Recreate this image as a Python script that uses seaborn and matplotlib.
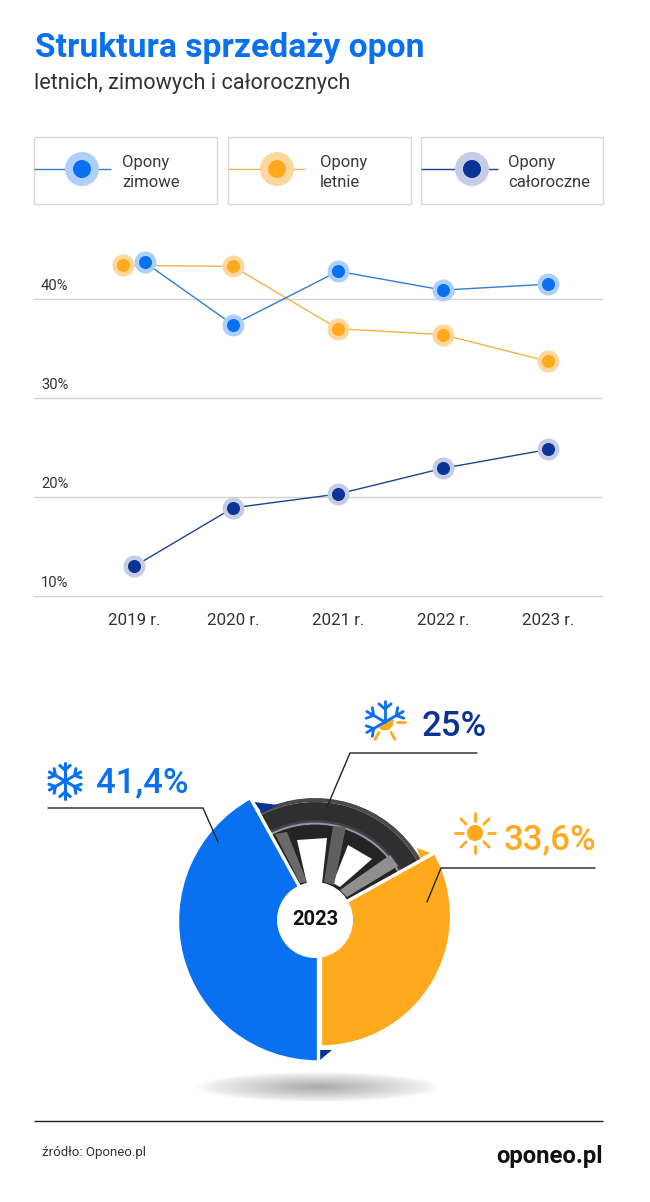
#!/usr/bin/env python
# coding: utf-8

import numpy as np
import pandas as pd
import matplotlib.pyplot as plt
import seaborn as sns
from matplotlib.patches import Circle, Ellipse, Polygon, Rectangle, Wedge
from matplotlib.transforms import ScaledTranslation

W, H = 650, 1202

BLUE = "#0a70f2"
ORANGE = "#ffa91c"
NAVY = "#0b3396"
BLUE_HALO = "#aecffa"
ORANGE_HALO = "#fdd79c"
NAVY_HALO = "#c4cde5"
LINE_COLORS = {"zimowe": "#2f7dd6", "letnie": "#efb548", "caloroczne": "#1f4196"}

# Values
year_labels = ["2019 r.", "2020 r.", "2021 r.", "2022 r.", "2023 r."]
tick_years = [2019.06, 2020, 2021, 2022, 2023]
x_zimowe = [2019.16, 2020, 2021, 2022, 2023]
x_letnie = [2018.95, 2020, 2021, 2022, 2023]
x_caloroczne = [2019.06, 2020, 2021, 2022, 2023]
zimowe = [43.7, 37.4, 42.8, 40.9, 41.5]
letnie = [43.4, 43.3, 37.0, 36.4, 33.7]
caloroczne = [13.0, 18.9, 20.3, 22.9, 24.8]
y_ticks = [10, 20, 30, 40]

# Shares of the 2023 pie
pie_shares = [33.6, 25, 41.4]
pie_colors = [ORANGE, NAVY, BLUE]


def line_table(x, y, name):
    return pd.DataFrame({"x": x, "y": y, "series": name})


def draw_series(ax, table, name, color, halo):
    sns.lineplot(data=table, x="x", y="y", color=LINE_COLORS[name], linewidth=1.0, ax=ax, zorder=2)
    sns.scatterplot(data=table, x="x", y="y", color=halo, s=250, linewidth=0, ax=ax, zorder=3)
    sns.scatterplot(data=table, x="x", y="y", color=color, s=88, linewidth=0, ax=ax, zorder=4)


def px_y(y):
    return H - y


def seg(ax, x0, y0, x1, y1, color, lw=1.0, z=5, cap="butt"):
    ax.plot([x0, x1], [px_y(y0), px_y(y1)], color=color, lw=lw, zorder=z, solid_capstyle=cap)


def draw_snowflake(ax, cx, cy, r, color, angles, lw=2.2):
    for a in angles:
        t = np.deg2rad(a)
        ex, ey = cx + r * np.cos(t), cy - r * np.sin(t)
        seg(ax, cx, cy, ex, ey, color, lw, cap="round")
        mx, my = cx + 0.62 * r * np.cos(t), cy - 0.62 * r * np.sin(t)
        for d in (-50, 50):
            b = np.deg2rad(a + d)
            seg(ax, mx, my, mx + 0.38 * r * np.cos(b), my - 0.38 * r * np.sin(b), color, lw, cap="round")


def draw_rays(ax, cx, cy, r0, r1, angles, color, lw=2.0):
    for a in angles:
        t = np.deg2rad(a)
        seg(ax, cx + r0 * np.cos(t), cy - r0 * np.sin(t), cx + r1 * np.cos(t), cy - r1 * np.sin(t), color, lw, cap="round")


if __name__ == "__main__":

    sns.set_style("white")
    plt.rcParams["font.family"] = ["Roboto", "DejaVu Sans"]

    fig = plt.figure(figsize=(W / 100, H / 100), dpi=100, facecolor="white")

    # Overlay in pixel coordinates, used for everything around the charts
    bg = fig.add_axes([0, 0, 1, 1], zorder=0)
    bg.set_xlim(0, W)
    bg.set_ylim(0, H)
    bg.axis("off")

    bg.text(35, px_y(48), "Struktura sprzedaży opon", color=BLUE, fontsize=24.2, fontweight="bold", va="center")
    bg.text(34, px_y(84), "letnich, zimowych i całorocznych", color="#333333", fontsize=15.6, va="center")

    # Legend boxes
    legend_items = [
        (34, 183, 82, "Opony\nzimowe", 122, LINE_COLORS["zimowe"], BLUE, BLUE_HALO),
        (228, 183, 277, "Opony\nletnie", 320, LINE_COLORS["letnie"], ORANGE, ORANGE_HALO),
        (421, 182, 472, "Opony\ncałoroczne", 508, LINE_COLORS["caloroczne"], NAVY, NAVY_HALO),
    ]
    for left, width, mx, label, tx, lc, col, halo in legend_items:
        bg.add_patch(Rectangle((left, px_y(204)), width, 67, facecolor="white", edgecolor="#d9d9d9", lw=1.0))
        seg(bg, left, 169, left + 77, 169, lc, 1.0, z=2)
        bg.add_patch(Circle((mx, px_y(169)), 17, facecolor=halo, edgecolor="none", zorder=3))
        bg.add_patch(Circle((mx, px_y(169)), 9, facecolor=col, edgecolor="none", zorder=4))
        bg.text(tx, px_y(172.5), label, fontsize=12, color="#3a3a3a", va="center", linespacing=1.42)

    # Line chart
    ax = fig.add_axes([34 / W, 1 - 600 / H, 569 / W, 360 / H], zorder=1)
    ax.patch.set_alpha(0)
    draw_series(ax, line_table(x_letnie, letnie, "letnie"), "letnie", ORANGE, ORANGE_HALO)
    draw_series(ax, line_table(x_zimowe, zimowe, "zimowe"), "zimowe", BLUE, BLUE_HALO)
    draw_series(ax, line_table(x_caloroczne, caloroczne, "caloroczne"), "caloroczne", NAVY, NAVY_HALO)
    ax.set_xlim(2018.105, 2023.524)
    ax.set_ylim(9.596, 45.96)
    ax.set_xlabel("")
    ax.set_ylabel("")
    ax.set_xticks(tick_years)
    ax.set_xticklabels(year_labels)
    ax.set_yticks(y_ticks)
    ax.set_yticklabels(["%d%%" % v for v in y_ticks])
    ax.tick_params(axis="x", length=0, pad=9.5, labelsize=12.2, labelcolor="#333333")
    ax.tick_params(axis="y", length=0, pad=-5, labelsize=10.6, labelcolor="#333333")
    shift = ScaledTranslation(0, 4.6 / 72, fig.dpi_scale_trans)
    for t in ax.get_yticklabels():
        t.set_ha("left")
        t.set_va("bottom")
        t.set_transform(t.get_transform() + shift)
    ax.yaxis.grid(True, color="#d4d4d4", linewidth=1.0)
    ax.set_axisbelow(True)
    sns.despine(ax=ax, left=True, bottom=True)

    # Shadow under the pie
    n_shadow = 40
    for i in range(n_shadow):
        f = 1 - i / n_shadow
        bg.add_patch(Ellipse((318, px_y(1087)), 245 * f, 30 * f, facecolor="#444444", edgecolor="none", alpha=0.013, zorder=1))

    # Pie, axes in pixel units centred on (319, 920)
    pie_ax = fig.add_axes([(319 - 160) / W, 1 - (920 + 160) / H, 320 / W, 320 / H], zorder=2)
    pie_ax.patch.set_alpha(0)
    wedges, _ = pie_ax.pie(
        pie_shares,
        colors=pie_colors,
        startangle=-92,
        radius=130,
        frame=True,
        wedgeprops={"edgecolor": "white", "linewidth": 2.4},
    )
    pie_ax.set_xlim(-160, 160)
    pie_ax.set_ylim(-160, 160)
    pie_ax.axis("off")
    # the slices in the reference are shifted and have different radii
    wedges[0].set_center((1.5, 4))
    wedges[0].set_radius(131)
    wedges[0].set_theta1(-90)
    wedges[1].set_radius(115)
    wedges[1].set_zorder(1)
    wedges[2].set_center((-0.5, -1))
    wedges[2].set_radius(141)
    wedges[2].set_theta2(270)
    wedges[0].set_zorder(6)
    wedges[2].set_zorder(6)

    # Tyre in the 25% sector
    th1, th2 = 30, 117
    wc = (-4, 0)
    bits = [
        (122, 4, "#4a4a4a"),
        (118, 18, "#2f2f2f"),
        (100, 2.5, "#424242"),
        (97.5, 2.2, "#969696"),
        (95.3, 95.3, "#242424"),
    ]
    for r, w, c in bits:
        pie_ax.add_patch(Wedge(wc, r, th1, th2, width=w, facecolor=c, edgecolor="none", zorder=2))

    def to_pie(pts):
        return [(x - 319, 920 - y) for x, y in pts]

    for pts, c in [
        ([(297, 840), (327, 838), (322, 884), (307, 884)], "white"),
        ([(348, 845), (372, 859), (340, 887), (333, 883)], "white"),
        ([(333, 826), (346, 827), (334, 885), (324, 882)], "#5f5f5f"),
        ([(390, 855), (398, 866), (347, 897), (340, 890)], "#8f8f8f"),
        ([(275, 834), (287, 832), (307, 882), (300, 883)], "#6a6a6a"),
    ]:
        pie_ax.add_patch(Polygon(to_pie(pts), closed=True, facecolor=c, edgecolor="none", zorder=3))

    # Slivers of colour sticking out from behind the wheel
    for pts, c in [
        ([(254, 802), (278, 805), (262, 813)], NAVY),
        ([(320, 1050), (332, 1050), (320, 1060)], NAVY),
        ([(417, 848), (430, 853), (420, 858)], ORANGE),
    ]:
        pie_ax.add_patch(Polygon(to_pie(pts), closed=True, facecolor=c, edgecolor="none", zorder=5))

    pie_ax.add_patch(Circle(wc, 38, facecolor="white", edgecolor="none", zorder=7))
    pie_ax.text(-4, 0.5, "2023", fontsize=14.5, fontweight="bold", color="#111111", ha="center", va="center", zorder=8)

    # Top overlay for leader lines and the labels
    top = fig.add_axes([0, 0, 1, 1], zorder=3)
    top.set_xlim(0, W)
    top.set_ylim(0, H)
    top.axis("off")

    for xs, ys in [
        ([48, 203, 218], [808, 808, 842]),
        ([477, 350, 327], [753, 753, 807]),
        ([595, 441, 427], [868, 868, 902]),
    ]:
        top.plot(xs, [px_y(v) for v in ys], color="#222222", lw=1.0, zorder=5, solid_joinstyle="miter")

    top.text(96, px_y(783), "41,4%", color=BLUE, fontsize=25, fontweight="medium", va="center")
    top.text(422, px_y(726), "25%", color=NAVY, fontsize=25, fontweight="medium", va="center")
    top.text(504, px_y(840), "33,6%", color=ORANGE, fontsize=25, fontweight="medium", va="center")

    # Icons
    draw_snowflake(top, 65, 781, 18, BLUE, [90, 30, -30, -90, -150, 150])

    top.add_patch(Circle((475, px_y(833)), 8, facecolor=ORANGE, edgecolor="none", zorder=5))
    draw_rays(top, 475, 833, 12.5, 20, range(0, 360, 45), ORANGE)

    top.add_patch(Wedge((385, px_y(722)), 8.5, 210, 390, facecolor=ORANGE, edgecolor="none", zorder=4))
    draw_rays(top, 385, 722, 12, 20, [0, -60, -120], ORANGE)
    draw_snowflake(top, 385, 722, 21, BLUE, [30, 90, 150, 210], lw=2.0)

    # Footer
    seg(top, 34, 1121, 603, 1121, "#222222", 1.0)
    top.text(42, px_y(1152.5), "źródło: Oponeo.pl", fontsize=9.5, color="#333333", va="center")
    top.text(603, px_y(1157), "oponeo.pl", fontsize=17.2, fontweight="bold", color="#111111", ha="right", va="center")

    fig.savefig("out.png", dpi=100, facecolor="white")
